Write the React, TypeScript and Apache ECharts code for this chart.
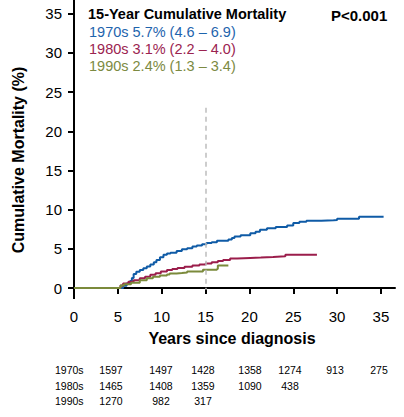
import React, { useEffect, useRef } from "react";
import * as echarts from "echarts";

const FONT = "'Liberation Sans', Arial, Helvetica, sans-serif";

const yTicks = [0, 5, 10, 15, 20, 25, 30, 35];
const xTicks = [0, 5, 10, 15, 20, 25, 30, 35];

// Step-curve data: years since diagnosis and cumulative mortality (%)
const years1970 = [0, 5.2, 5.6, 6.0, 6.4, 6.6, 6.8, 7.1, 7.5, 7.9, 8.3, 8.7, 9.1, 9.4, 9.8, 10.2, 10.6, 11.0, 11.7, 12.3, 12.9, 13.5, 14.0, 14.6, 15.1, 15.7, 16.3, 17.6, 18.0, 18.3, 19.0, 20.1, 20.7, 21.2, 22.0, 23.0, 24.3, 25.0, 25.7, 26.5, 28.2, 29.6, 30.0, 32.5, 35.3];
const mort1970 = [0, 0, 0.3, 0.6, 0.9, 1.3, 1.8, 2.1, 2.3, 2.55, 2.75, 3.0, 3.3, 3.6, 3.95, 4.25, 4.4, 4.5, 4.75, 4.95, 5.1, 5.3, 5.43, 5.6, 5.74, 5.85, 6.05, 6.2, 6.4, 6.6, 6.75, 7.0, 7.2, 7.44, 7.65, 7.8, 8.0, 8.3, 8.45, 8.6, 8.65, 8.7, 8.85, 9.1, 9.1];

const years1980 = [0, 5.0, 5.3, 5.6, 6.2, 6.8, 7.5, 8.1, 8.7, 9.3, 9.9, 10.6, 11.2, 11.8, 12.6, 13.5, 14.3, 15.0, 15.7, 16.4, 17.0, 17.8, 18.6, 20.1, 21.3, 22.7, 24.1, 27.7];
const mort1980 = [0, 0, 0.35, 0.6, 0.8, 1.0, 1.25, 1.45, 1.7, 1.9, 2.12, 2.3, 2.45, 2.58, 2.72, 2.88, 3.02, 3.15, 3.3, 3.45, 3.58, 3.78, 3.85, 3.9, 3.97, 4.05, 4.25, 4.25];

const years1990 = [0, 5.0, 5.3, 5.7, 6.5, 7.5, 8.3, 9.0, 9.8, 10.6, 10.9, 11.7, 12.3, 12.9, 14.6, 14.7, 16.3, 16.4, 17.6];
const mort1990 = [0, 0, 0.35, 0.5, 0.7, 1.0, 1.25, 1.45, 1.6, 1.75, 1.85, 1.92, 2.0, 2.12, 2.12, 2.33, 2.45, 2.9, 2.9];

const decades = ["1970s", "1980s", "1990s"];
const legendText = [
  "1970s 5.7% (4.6 \u2013 6.9)",
  "1980s 3.1% (2.2 \u2013 4.0)",
  "1990s 2.4% (1.3 \u2013 3.4)",
];
const atRisk1970 = [1597, 1497, 1428, 1358, 1274, 913, 275];
const atRisk1980 = [1465, 1408, 1359, 1090, 438];
const atRisk1990 = [1270, 982, 317];

const COLORS = ["#0f5ba6", "#9b1d4b", "#7b8a3b"];
const TEXT_COLORS = ["#1e64ad", "#9b2350", "#7c8a42"];

const zip = (xs: number[], ys: number[]) => xs.map((x, i) => [x, ys[i]]);

export default function App() {
  const ref = useRef<HTMLDivElement>(null);

  useEffect(() => {
    if (!ref.current) return;
    const chart = echarts.init(ref.current, null, { renderer: "svg" });

    const colX = [111, 161, 203, 250, 290, 335, 379];
    const rowY = [370, 386, 401];
    const rows = [atRisk1970, atRisk1980, atRisk1990];
    const tableTexts: any[] = [];
    rows.forEach((r, ri) => {
      tableTexts.push({
        type: "text",
        x: 55,
        y: rowY[ri],
        style: { text: decades[ri], font: `10.5px ${FONT}`, fill: "#000", textVerticalAlign: "middle" },
      });
      r.forEach((v, ci) => {
        tableTexts.push({
          type: "text",
          x: colX[ci],
          y: rowY[ri],
          style: { text: String(v), font: `10.5px ${FONT}`, fill: "#000", textAlign: "center", textVerticalAlign: "middle" },
        });
      });
    });

    const legendTexts = legendText.map((t, i) => ({
      type: "text",
      x: 89,
      y: 32 + i * 17,
      style: { text: t, font: `14.5px ${FONT}`, fill: TEXT_COLORS[i], textVerticalAlign: "middle" },
    }));

    const mkSeries = (name: string, data: number[][], color: string, extra: any = {}) => ({
      name,
      type: "line",
      step: "end",
      data,
      symbol: "none",
      lineStyle: { color, width: 2 },
      itemStyle: { color },
      ...extra,
    });

    chart.setOption({
      animation: false,
      grid: { left: 74, right: 9, top: 0, height: 294, containLabel: false },
      xAxis: {
        type: "value",
        min: 0,
        max: 36.6,
        axisLine: { show: true, lineStyle: { color: "#000", width: 2 } },
        axisTick: { show: true, customValues: xTicks, length: 6, lineStyle: { color: "#000", width: 2 } },
        axisLabel: { customValues: xTicks, fontSize: 15, color: "#000", fontFamily: FONT, margin: 15 },
        splitLine: { show: false },
      },
      yAxis: {
        type: "value",
        min: -0.75,
        max: 36.75,
        axisLine: { show: true, lineStyle: { color: "#000", width: 2 } },
        axisTick: { show: true, customValues: yTicks, length: 6, lineStyle: { color: "#000", width: 2 } },
        axisLabel: { customValues: yTicks, fontSize: 15, color: "#000", fontFamily: FONT, margin: 12 },
        splitLine: { show: false },
      },
      series: [
        mkSeries("1970s", zip(years1970, mort1970), COLORS[0], {
          markLine: {
            silent: true,
            symbol: "none",
            label: { show: false },
            lineStyle: { color: "#bdbdbd", type: [5, 4], width: 1.5 },
            data: [[{ coord: [15, 23] }, { coord: [15, -0.2] }]],
          },
        }),
        mkSeries("1980s", zip(years1980, mort1980), COLORS[1]),
        mkSeries("1990s", zip(years1990, mort1990), COLORS[2]),
      ],
      graphic: [
        { type: "line", shape: { x1: 74, y1: 293, x2: 74, y2: 299 }, style: { stroke: "#000", lineWidth: 2 } },
        {
          type: "text",
          x: 88,
          y: 14,
          style: { text: "15-Year Cumulative Mortality", font: `bold 14.5px ${FONT}`, fill: "#000", textVerticalAlign: "middle" },
        },
        {
          type: "text",
          x: 331,
          y: 15,
          style: { text: "P<0.001", font: `bold 15px ${FONT}`, fill: "#000", textVerticalAlign: "middle" },
        },
        ...legendTexts,
        {
          type: "text",
          x: 232,
          y: 338,
          style: { text: "Years since diagnosis", font: `bold 16px ${FONT}`, fill: "#000", textAlign: "center", textVerticalAlign: "middle" },
        },
        {
          type: "text",
          x: 18,
          y: 160,
          rotation: Math.PI / 2,
          style: { text: "Cumulative Mortality (%)", font: `bold 16px ${FONT}`, fill: "#000", textAlign: "center", textVerticalAlign: "middle" },
        },
        ...tableTexts,
      ],
    });

    return () => chart.dispose();
  }, []);

  return <div ref={ref} style={{ width: 404, height: 417, position: "absolute", left: 0, top: 0, background: "#fff" }} />;
}
